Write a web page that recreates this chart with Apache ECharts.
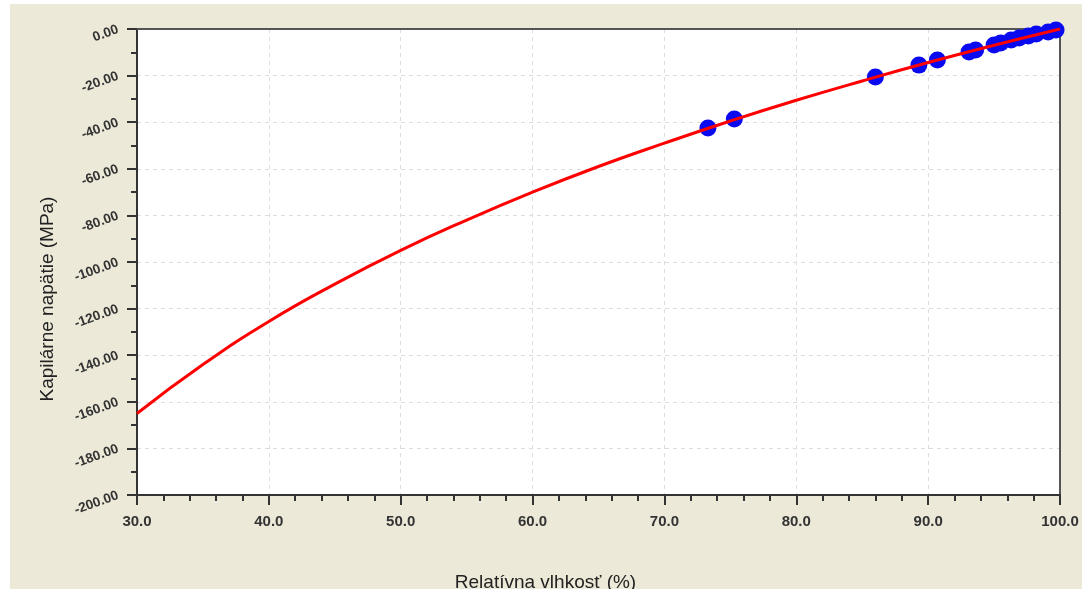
<!DOCTYPE html>
<html>
<head>
<meta charset="utf-8">
<script src="https://cdn.jsdelivr.net/npm/echarts@6/dist/echarts.min.js"></script>
<style>
html,body{margin:0;padding:0;background:#ffffff;width:1088px;height:589px;overflow:hidden;}
#chart{position:absolute;left:10px;top:4px;width:1072px;height:585px;}
</style>
</head>
<body>
<div id="chart"></div>
<script>
// Fitted curve: relative humidity (%) vs capillary pressure (MPa)
const curveRH = [30, 35, 40, 45, 50, 55, 60, 65, 70, 75, 80, 85, 90, 95, 100];
const curveP  = [-165, -144, -125.5, -109.5, -95, -82, -70, -59, -49, -39.5, -30.6, -22.3, -14.4, -7.0, 0];

// Measured points
const pointRH = [73.3, 75.3, 86.0, 89.3, 90.7, 93.1, 93.6, 95.0, 95.5, 96.3, 96.9, 97.6, 98.2, 99.1, 99.7];
const pointP  = [-42.5, -38.6, -20.6, -15.5, -13.3, -9.9, -9.0, -6.9, -6.0, -4.7, -3.9, -3.0, -2.1, -1.3, -0.4];

const xName = 'Relatívna vlhkosť (%)';
const yName = 'Kapilárne napätie (MPa)';

const frameAxis = {
  show: true,
  axisLine: {show: true, onZero: false, lineStyle: {color: '#555', width: 2}},
  axisTick: {show: false}, axisLabel: {show: false}, splitLine: {show: false}
};

const chart = echarts.init(document.getElementById('chart'));
chart.setOption({
  backgroundColor: '#ECE9D8',
  animation: false,
  grid: {
    left: 127, right: 22, top: 25, bottom: 94,
    containLabel: false, outerBoundsMode: 'none',
    show: true, backgroundColor: '#ffffff', borderWidth: 0
  },
  xAxis: [{
    type: 'value', min: 30, max: 100, interval: 10,
    name: xName, nameLocation: 'middle', nameGap: 78,
    nameTextStyle: {fontFamily: 'Liberation Sans', fontSize: 19, color: '#222', padding: [0, 106, 0, 0]},
    axisLine: {show: true, onZero: false, lineStyle: {color: '#333', width: 2}},
    axisTick: {show: true, inside: false, length: 10, lineStyle: {color: '#333', width: 2}},
    minorTick: {show: true, splitNumber: 5, length: 6, lineStyle: {color: '#333', width: 2}},
    axisLabel: {fontFamily: 'Liberation Sans', fontSize: 15, fontWeight: 'bold', color: '#333', margin: 19,
      formatter: v => v.toFixed(1)},
    splitLine: {show: true, lineStyle: {color: '#dddddd', type: [4, 4], width: 1}}
  }, Object.assign({type: 'value', min: 30, max: 100, position: 'top'}, frameAxis)],
  yAxis: [{
    type: 'value', min: -200, max: 0, interval: 20,
    name: yName, nameLocation: 'middle', nameGap: 80, nameRotate: 90,
    nameTextStyle: {fontFamily: 'Liberation Sans', fontSize: 19, color: '#222', padding: [0, 74, 0, 0]},
    axisLine: {show: true, onZero: false, lineStyle: {color: '#333', width: 2}},
    axisTick: {show: true, inside: false, length: 10, lineStyle: {color: '#333', width: 2}},
    minorTick: {show: true, splitNumber: 2, length: 6, lineStyle: {color: '#333', width: 2}},
    axisLabel: {fontFamily: 'Liberation Sans', fontSize: 13.5, fontWeight: 'bold', color: '#333', margin: 19, rotate: 20,
      formatter: v => v.toFixed(2)},
    splitLine: {show: true, lineStyle: {color: '#dddddd', type: [4, 4], width: 1}}
  }, Object.assign({type: 'value', min: -200, max: 0, position: 'right'}, frameAxis)],
  series: [
    {
      type: 'scatter', z: 2,
      data: pointRH.map((x, i) => [x, pointP[i]]),
      symbol: 'circle', symbolSize: 17,
      itemStyle: {color: '#0A0AF0', opacity: 1}
    },
    {
      type: 'line', z: 3, smooth: true, showSymbol: false,
      data: curveRH.map((x, i) => [x, curveP[i]]),
      lineStyle: {color: '#FF0000', width: 3}
    }
  ]
});
</script>
</body>
</html>
